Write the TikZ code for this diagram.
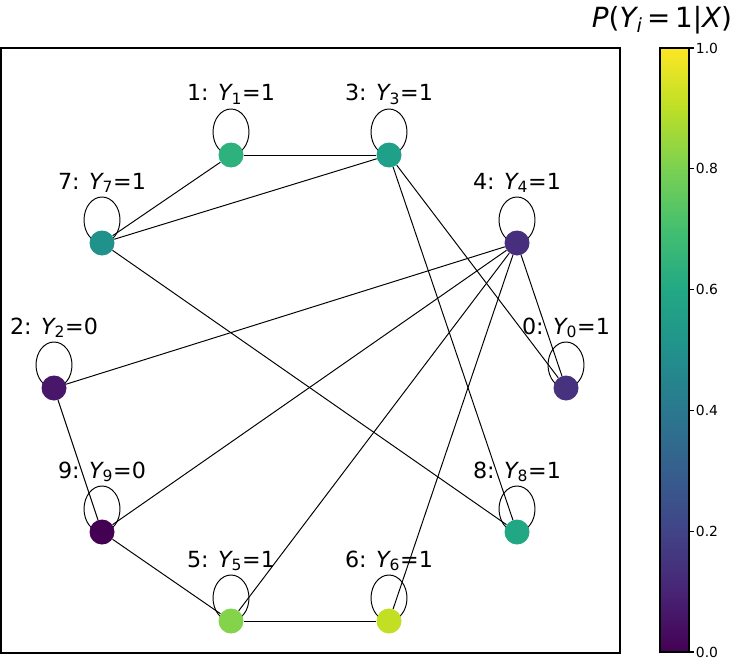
\documentclass[tikz,border=0pt]{standalone}
\usepackage{fontspec}
\setmainfont{DejaVu Sans}
\usepackage{xcolor}
\usepackage{tikz}
\usetikzlibrary{
calc,
backgrounds
}

% viridis stops for the colour bar
\definecolor{vir0}{HTML}{440154}
\definecolor{vir1}{HTML}{482475}
\definecolor{vir2}{HTML}{414487}
\definecolor{vir3}{HTML}{355F8D}
\definecolor{vir4}{HTML}{2A788E}
\definecolor{vir5}{HTML}{21918C}
\definecolor{vir6}{HTML}{22A884}
\definecolor{vir7}{HTML}{44BF70}
\definecolor{vir8}{HTML}{7AD151}
\definecolor{vir9}{HTML}{BDDF26}
\definecolor{vir10}{HTML}{FDE725}

% node colours
\definecolor{col0}{HTML}{46327E}
\definecolor{col1}{HTML}{2DB27D}
\definecolor{col2}{HTML}{481769}
\definecolor{col3}{HTML}{1FA088}
\definecolor{col4}{HTML}{472F7D}
\definecolor{col5}{HTML}{84D44B}
\definecolor{col6}{HTML}{C2DF23}
\definecolor{col7}{HTML}{21918C}
\definecolor{col8}{HTML}{22A785}
\definecolor{col9}{HTML}{440154}

\begin{document}
\begin{tikzpicture}[
x=0.72pt,
y=0.72pt,
vertex/.style={
circle,
inner sep=0pt,
minimum size=18pt
},
edge/.style={line width=0.7pt},
vlabel/.style={
anchor=base,
inner sep=0pt,
font=\fontsize{16}{19}\selectfont
},
ticklbl/.style={
anchor=west,
inner sep=1pt,
font=\fontsize{10}{12}\selectfont
}
]
\useasboundingbox (0,0) rectangle (732,660);

\node[vertex,fill=col0] (n0) at (566,272) {};
\node[vertex,fill=col1] (n1) at (231,505) {};
\node[vertex,fill=col2] (n2) at (54,272) {};
\node[vertex,fill=col3] (n3) at (389,505) {};
\node[vertex,fill=col4] (n4) at (517,417) {};
\node[vertex,fill=col5] (n5) at (231,39) {};
\node[vertex,fill=col6] (n6) at (389,39) {};
\node[vertex,fill=col7] (n7) at (102,417) {};
\node[vertex,fill=col8] (n8) at (517,128) {};
\node[vertex,fill=col9] (n9) at (102,128) {};

\node[vlabel] (l0) at ($(n0)+(0,54)$) {0: {\itshape Y}\textsubscript{0}=1};
\node[vlabel] (l1) at ($(n1)+(0,54)$) {1: {\itshape Y}\textsubscript{1}=1};
\node[vlabel] (l2) at ($(n2)+(0,54)$) {2: {\itshape Y}\textsubscript{2}=0};
\node[vlabel] (l3) at ($(n3)+(0,54)$) {3: {\itshape Y}\textsubscript{3}=1};
\node[vlabel] (l4) at ($(n4)+(0,54)$) {4: {\itshape Y}\textsubscript{4}=1};
\node[vlabel] (l5) at ($(n5)+(0,54)$) {5: {\itshape Y}\textsubscript{5}=1};
\node[vlabel] (l6) at ($(n6)+(0,54)$) {6: {\itshape Y}\textsubscript{6}=1};
\node[vlabel] (l7) at ($(n7)+(0,54)$) {7: {\itshape Y}\textsubscript{7}=1};
\node[vlabel] (l8) at ($(n8)+(0,54)$) {8: {\itshape Y}\textsubscript{8}=1};
\node[vlabel] (l9) at ($(n9)+(0,54)$) {9: {\itshape Y}\textsubscript{9}=0};

\begin{scope}[on background layer]
\fill[white] (0,0) rectangle (732,660);

\draw[edge] (n1) -- (n3);
\draw[edge] (n1) -- (n7);
\draw[edge] (n3) -- (n7);
\draw[edge] (n3) -- (n0);
\draw[edge] (n3) -- (n8);
\draw[edge] (n4) -- (n2);
\draw[edge] (n4) -- (n9);
\draw[edge] (n4) -- (n5);
\draw[edge] (n4) -- (n6);
\draw[edge] (n4) -- (n0);
\draw[edge] (n7) -- (n8);
\draw[edge] (n2) -- (n9);
\draw[edge] (n9) -- (n5);
\draw[edge] (n5) -- (n6);

% self loops
\foreach \v in {0,...,9}
\draw[edge] ($(n\v)+(0,23)$) ellipse (18 and 23);
\end{scope}

% axes frame
\draw[line width=0.8pt] (1,7) rectangle (620,612);

% colour bar
\foreach \k [evaluate=\k as \kk using int(\k+1)] in {0,...,9}
\shade[bottom color=vir\k,top color=vir\kk] (660,{8+60.4*\k}) rectangle (689,{8+60.4*(\k+1)+0.6});
\draw[line width=0.8pt] (660,8) rectangle (689,612);
\foreach \t/\tl in {0/0.0,1/0.2,2/0.4,3/0.6,4/0.8,5/1.0}
\draw[line width=0.8pt] (689,{8+120.8*\t}) -- ++(5,0) node[ticklbl] {\tl};

\node[anchor=base,inner sep=0pt,font=\fontsize{20}{24}\selectfont] (title) at (662,632)
{{\itshape P}({\itshape Y}\textsubscript{\itshape i}\,=\,1|{\itshape X})};

\end{tikzpicture}
\end{document}
